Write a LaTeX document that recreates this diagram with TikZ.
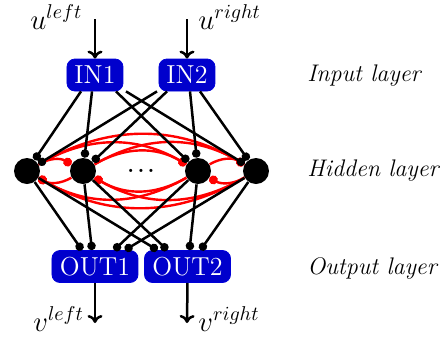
\documentclass[tikz,border=0pt]{standalone}
\usetikzlibrary{arrows.meta}
\definecolor{boxblue}{RGB}{0,0,204}
\begin{document}
\begin{tikzpicture}[x=0.5pt,y=-0.5pt,
  box/.style={rounded corners=4pt, fill=boxblue, draw=blue!85!black, line width=0.4pt, text=white, font=\fontsize{13}{15}\selectfont, minimum height=16pt, inner sep=0pt},
  neuron/.style={circle, fill=black, minimum size=13pt, inner sep=0pt},
  syn/.style={line width=1.25pt, -{Circle[length=4.2pt]}},
  rec/.style={red, line width=1.2pt, -{Circle[length=4.4pt]}, bend left=30},
  io/.style={line width=1.25pt, -{To[length=4pt,width=7.5pt]}},
  lab/.style={font=\fontsize{12}{14}\selectfont\itshape, anchor=base west, inner sep=0pt},
  mlab/.style={font=\fontsize{14.4}{16}\selectfont, anchor=base west, inner sep=0pt}]
\useasboundingbox (0,0) rectangle (446,339);
% boxes
\node[box, minimum width=28pt] (in1) at (95,75) {IN1};
\node[box, minimum width=28pt] (in2) at (187,75) {IN2};
\node[box, minimum width=43pt] (out1) at (95,266.5) {OUT1};
\node[box, minimum width=43pt] (out2) at (187.5,266.5) {OUT2};
% neurons
\node[neuron] (h1) at (27,171) {};
\node[neuron] (h2) at (83,171) {};
\node[neuron] (h3) at (198,171) {};
\node[neuron] (h4) at (256,171) {};
\node[font=\fontsize{11}{12}\selectfont\bfseries, inner sep=0pt] (dots) at (141,171) {.\kern1.6pt.\kern1.6pt.};
% recurrent connections
\foreach \i in {1,...,4}{
  \foreach \j in {1,...,4}{
    \ifnum\i=\j\relax\else
      \draw[rec] (h\i) to (h\j);
    \fi
  }
}
% input synapses
\draw[syn] ([xshift=-7pt]in1.south) -- (h1);
\draw[syn] ([xshift=-1.5pt]in1.south) -- (h2);
\draw[syn] ([xshift=10.5pt]in1.south) -- (h3);
\draw[syn] ([xshift=15.5pt]in1.south) -- (h4);
\draw[syn] ([xshift=-15pt]in2.south) -- (h1);
\draw[syn] ([xshift=-10pt]in2.south) -- (h2);
\draw[syn] ([xshift=1.5pt]in2.south) -- (h3);
\draw[syn] ([xshift=6.5pt]in2.south) -- (h4);
% output synapses
\draw[syn] (h1) -- ([xshift=-6.5pt]out1.north);
\draw[syn] (h2) -- ([xshift=-1.5pt]out1.north);
\draw[syn] (h3) -- ([xshift=9.5pt]out1.north);
\draw[syn] (h4) -- ([xshift=15pt]out1.north);
\draw[syn] (h1) -- ([xshift=-15pt]out2.north);
\draw[syn] (h2) -- ([xshift=-10pt]out2.north);
\draw[syn] (h3) -- ([xshift=1pt]out2.north);
\draw[syn] (h4) -- ([xshift=6.5pt]out2.north);
% inputs and outputs
\coordinate (uin1) at (95,19);
\coordinate (uin2) at (187,19);
\coordinate (vout1) at (95,323);
\coordinate (vout2) at (187,323);
\draw[io] (uin1) -- (in1.north);
\draw[io] (uin2) -- (in2.north);
\draw[io] (out1.south) -- (vout1);
\draw[io] (out2.south) -- (vout2);
\node[mlab] (ul) at (30,29) {$u^{left}$};
\node[mlab] (ur) at (198,29) {$u^{right}$};
\node[mlab] (vl) at (33,331) {$v^{left}$};
\node[mlab] (vr) at (198,331) {$v^{right}$};
% layer labels
\node[lab] (li) at (307,81) {Input layer};
\node[lab] (lh) at (307,176) {Hidden layer};
\node[lab] (lo) at (307,274) {Output layer};
\end{tikzpicture}
\end{document}
